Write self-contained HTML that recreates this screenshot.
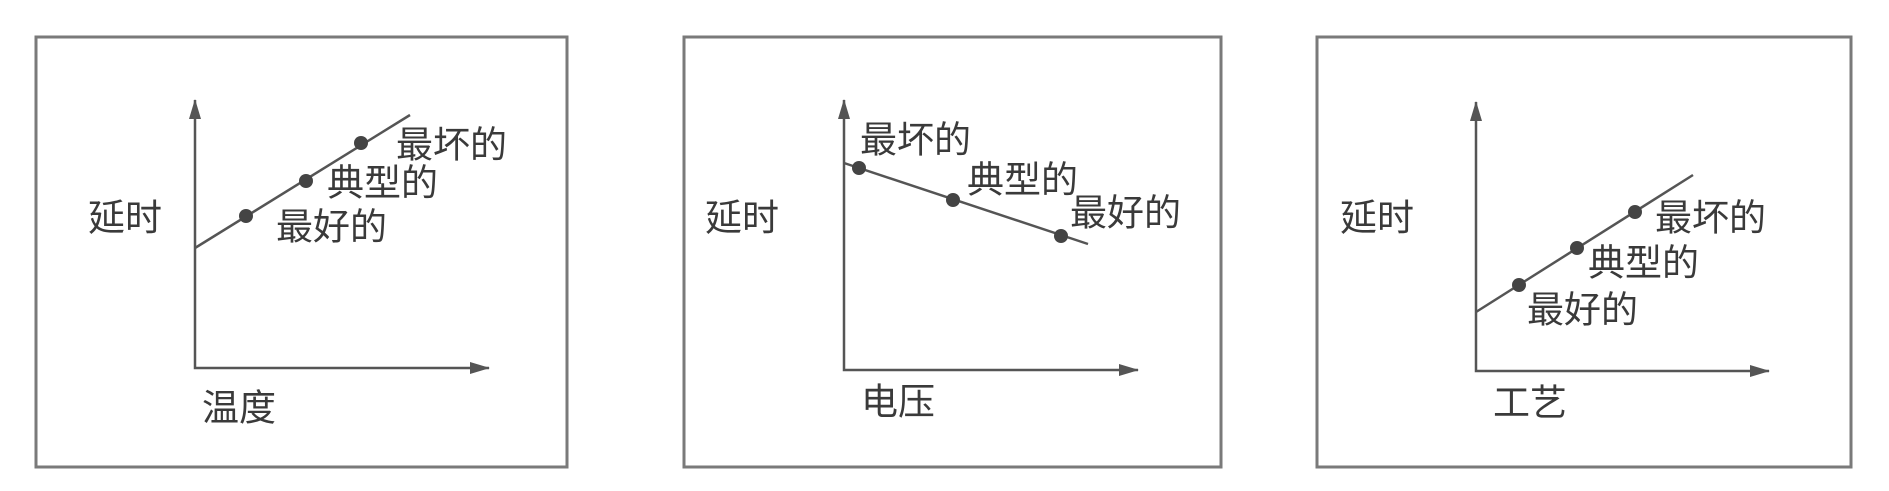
<!DOCTYPE html>
<html><head><meta charset="utf-8"><style>
html,body{margin:0;padding:0;background:#fff;}
svg{display:block}
text{font-family:"Liberation Sans","Noto Sans CJK SC",sans-serif;font-size:37px;fill:#3a3a3a;dominant-baseline:central}
</style></head><body>
<svg width="1889" height="491" viewBox="0 0 1889 491" xmlns="http://www.w3.org/2000/svg">
<defs>
<marker id="b" viewBox="0 0 20 12" markerWidth="20" markerHeight="12" refX="19" refY="6" orient="auto-start-reverse" markerUnits="userSpaceOnUse"><path d="M0,0 L20,6 L0,12 Z" fill="#555"/></marker>
</defs>
<g fill="none" stroke="#7a7a7a" stroke-width="3">
<rect x="36" y="37" width="531" height="430"/>
<rect x="684" y="37" width="537" height="430"/>
<rect x="1317" y="37" width="534" height="430"/>
</g>
<g stroke="#555" stroke-width="2.5" fill="none">
<polyline points="195,100 195,368 489,368" marker-end="url(#b)" marker-start="url(#b)"/>
<polyline points="844,100 844,370 1138,370" marker-end="url(#b)" marker-start="url(#b)"/>
<polyline points="1476,102 1476,371 1769,371" marker-end="url(#b)" marker-start="url(#b)"/>
<line x1="195" y1="248" x2="410" y2="115"/>
<line x1="844" y1="163" x2="1088" y2="244"/>
<line x1="1476" y1="312" x2="1693" y2="175"/>
</g>
<g fill="#444">
<circle cx="246" cy="216" r="7"/><circle cx="306" cy="181" r="7"/><circle cx="361" cy="143" r="7"/>
<circle cx="859" cy="168" r="7"/><circle cx="953" cy="200" r="7"/><circle cx="1061" cy="236" r="7"/>
<circle cx="1519" cy="285" r="7"/><circle cx="1577" cy="248" r="7"/><circle cx="1635" cy="212" r="7"/>
</g>
<text x="396" y="145">最坏的</text>
<text x="327" y="183">典型的</text>
<text x="276" y="227">最好的</text>
<text x="88" y="218">延时</text>
<text x="202" y="408">温度</text>
<text x="860" y="140">最坏的</text>
<text x="967" y="180">典型的</text>
<text x="1070" y="213">最好的</text>
<text x="705" y="218">延时</text>
<text x="861" y="402">电压</text>
<text x="1655" y="218">最坏的</text>
<text x="1588" y="263">典型的</text>
<text x="1527" y="310">最好的</text>
<text x="1340" y="218">延时</text>
<text x="1493" y="403">工艺</text>
</svg>
</body></html>
